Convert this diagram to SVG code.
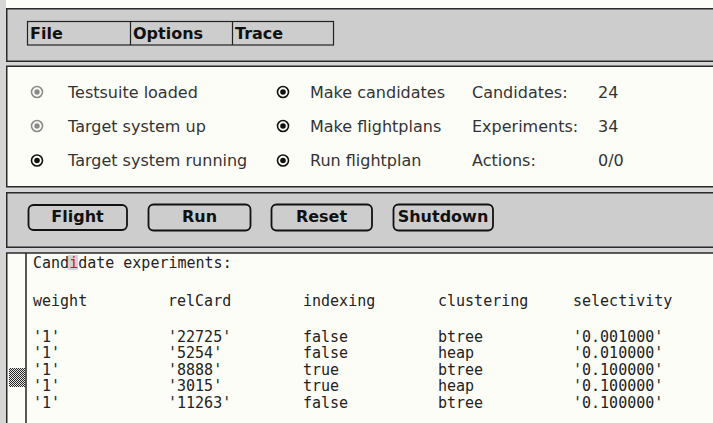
<svg xmlns="http://www.w3.org/2000/svg" width="713" height="423" viewBox="0 0 713 423">
<defs>
<pattern id="chk" width="2" height="2" patternUnits="userSpaceOnUse">
<rect width="2" height="2" fill="#e8e8e8"/>
<rect width="1" height="1" fill="#222"/>
<rect x="1" y="1" width="1" height="1" fill="#222"/>
</pattern>
</defs>
<style>
.panel{fill:#cdcdcd;stroke:#2a2a2a;stroke-width:1.5}
.wpanel{fill:#fdfdf8;stroke:#2a2a2a;stroke-width:1.5}
.menu{font-family:"DejaVu Sans",sans-serif;font-weight:bold;font-size:16px;fill:#111}
.st{font-family:"DejaVu Sans",sans-serif;font-size:16px;fill:#333}
.btn{fill:none;stroke:#111;stroke-width:1.8}
.btnt{font-family:"DejaVu Sans",sans-serif;font-weight:bold;font-size:16px;fill:#111;text-anchor:middle}
.mono{font-family:"DejaVu Sans Mono","Liberation Mono",monospace;font-size:15px;fill:#222}
.ring{fill:#fdfdf8;stroke-width:1.6}
</style>
<rect x="0" y="0" width="713" height="423" fill="#fdfdf8"/>
<rect x="0" y="0" width="6" height="423" fill="#d6d6d6"/>
<rect x="6" y="60" width="707" height="8" fill="#d6d6d6"/>
<rect x="6" y="186" width="707" height="8" fill="#d6d6d6"/>
<rect x="6" y="246" width="707" height="8" fill="#d6d6d6"/>

<g id="menubar">
<rect class="panel" x="6.75" y="8.75" width="720" height="52.5"/>
<rect x="27.5" y="21.5" width="306" height="23.5" fill="none" stroke="#222" stroke-width="1.2"/>
<line x1="130.5" y1="21.5" x2="130.5" y2="45" stroke="#222" stroke-width="1.2"/>
<line x1="232.5" y1="21.5" x2="232.5" y2="45" stroke="#222" stroke-width="1.2"/>
<text class="menu" x="30" y="38.5">File</text>
<text class="menu" x="133" y="38.5">Options</text>
<text class="menu" x="235" y="38.5">Trace</text>
</g>

<g id="status">
<rect class="wpanel" x="6.75" y="66.25" width="720" height="120.5"/>
<g id="r1"><circle class="ring" cx="37" cy="92" r="5.5" stroke="#8a8a8a"/><circle cx="37" cy="92" r="2.7" fill="#8a8a8a"/><text class="st" x="68" y="97.5">Testsuite loaded</text></g>
<g id="r2"><circle class="ring" cx="37" cy="126" r="5.5" stroke="#8a8a8a"/><circle cx="37" cy="126" r="2.7" fill="#8a8a8a"/><text class="st" x="68" y="131.5">Target system up</text></g>
<g id="r3"><circle class="ring" cx="37" cy="160.5" r="5.5" stroke="#111"/><circle cx="37" cy="160.5" r="2.8" fill="#111"/><text class="st" x="68" y="166">Target system running</text></g>
<g id="r4"><circle class="ring" cx="283" cy="92" r="5.5" stroke="#111"/><circle cx="283" cy="92" r="2.8" fill="#111"/><text class="st" x="310" y="97.5">Make candidates</text></g>
<g id="r5"><circle class="ring" cx="283" cy="126" r="5.5" stroke="#111"/><circle cx="283" cy="126" r="2.8" fill="#111"/><text class="st" x="310" y="131.5">Make flightplans</text></g>
<g id="r6"><circle class="ring" cx="283" cy="160.5" r="5.5" stroke="#111"/><circle cx="283" cy="160.5" r="2.8" fill="#111"/><text class="st" x="310" y="166">Run flightplan</text></g>
<text class="st" x="472" y="97.5">Candidates:</text><text class="st" x="598" y="97.5">24</text>
<text class="st" x="472" y="131.5">Experiments:</text><text class="st" x="598" y="131.5">34</text>
<text class="st" x="472" y="166">Actions:</text><text class="st" x="598" y="166">0/0</text>
</g>

<g id="buttons">
<rect class="panel" x="6.75" y="192.75" width="720" height="54.5"/>
<g id="b-flight"><rect class="btn" x="28.5" y="205" width="98.5" height="25" rx="5" stroke-width="3"/><text class="btnt" x="77.5" y="222">Flight</text></g>
<g id="b-run"><rect class="btn" x="148.5" y="204.5" width="102" height="26" rx="5"/><text class="btnt" x="199.5" y="222">Run</text></g>
<g id="b-reset"><rect class="btn" x="271.5" y="204.5" width="100.5" height="26" rx="5"/><text class="btnt" x="321.5" y="222">Reset</text></g>
<g id="b-shutdown"><rect class="btn" x="393.5" y="204.5" width="99.5" height="26" rx="5"/><text class="btnt" x="443" y="222">Shutdown</text></g>
</g>

<g id="output">
<rect class="wpanel" x="6.75" y="253" width="720" height="200"/>
<line x1="26" y1="253" x2="26" y2="423" stroke="#222" stroke-width="1.5"/>
<rect x="9" y="368" width="16" height="19" fill="url(#chk)"/>
<rect x="68" y="255" width="10" height="15" fill="#d4d4d4"/>
<text class="mono" x="33" y="268">Cand<tspan fill="#e01010">i</tspan>date experiments:</text>
<text class="mono" y="305.5"><tspan x="33">weight</tspan><tspan x="168">relCard</tspan><tspan x="303">indexing</tspan><tspan x="438">clustering</tspan><tspan x="573">selectivity</tspan></text>
<text class="mono" y="341.5"><tspan x="33">'1'</tspan><tspan x="168">'22725'</tspan><tspan x="303">false</tspan><tspan x="438">btree</tspan><tspan x="573">'0.001000'</tspan></text>
<text class="mono" y="358"><tspan x="33">'1'</tspan><tspan x="168">'5254'</tspan><tspan x="303">false</tspan><tspan x="438">heap</tspan><tspan x="573">'0.010000'</tspan></text>
<text class="mono" y="374.5"><tspan x="33">'1'</tspan><tspan x="168">'8888'</tspan><tspan x="303">true</tspan><tspan x="438">btree</tspan><tspan x="573">'0.100000'</tspan></text>
<text class="mono" y="391"><tspan x="33">'1'</tspan><tspan x="168">'3015'</tspan><tspan x="303">true</tspan><tspan x="438">heap</tspan><tspan x="573">'0.100000'</tspan></text>
<text class="mono" y="407.5"><tspan x="33">'1'</tspan><tspan x="168">'11263'</tspan><tspan x="303">false</tspan><tspan x="438">btree</tspan><tspan x="573">'0.100000'</tspan></text>
</g>
</svg>
